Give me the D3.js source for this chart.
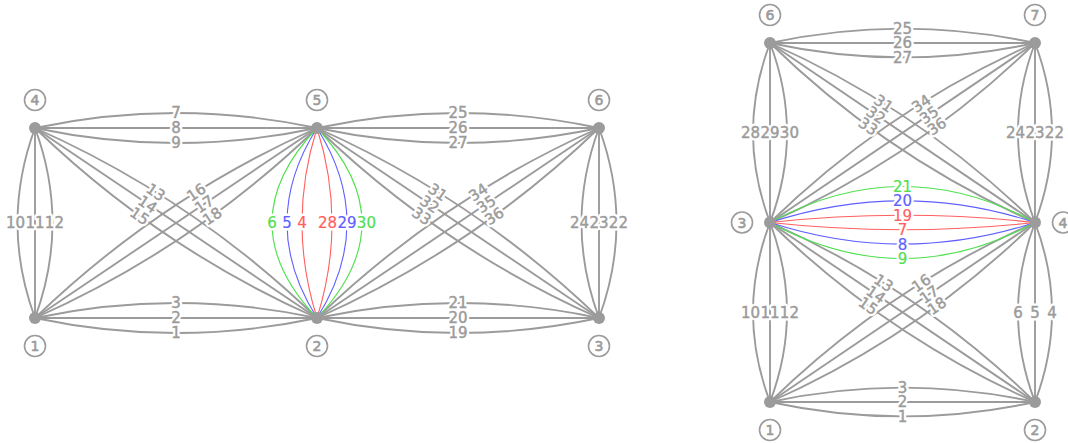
<!DOCTYPE html>
<html><head><meta charset="utf-8">
<script src="https://cdn.jsdelivr.net/npm/d3@7"></script>
<style>body{margin:0;background:#fff;overflow:hidden}</style>
</head><body><svg id="c" width="1068" height="443"></svg>
<script>
// ---------- data ----------
// node ids with their grid column / row
const leftNodeIds  = [1, 2, 3, 4, 5, 6];
const leftNodeCols = [0, 1, 2, 0, 1, 2];
const leftNodeRows = [1, 1, 1, 0, 0, 0];

const rightNodeIds  = [1, 2, 3, 4, 6, 7];
const rightNodeCols = [0, 1, 0, 1, 0, 1];
const rightNodeRows = [2, 2, 1, 1, 0, 0];

// edges: [source, target, label, parallel slot, colour key]
const leftEdges = [
  [1,2,"3",1,"g"],[1,2,"2",0,"g"],[1,2,"1",-1,"g"],
  [4,5,"7",1,"g"],[4,5,"8",0,"g"],[4,5,"9",-1,"g"],
  [2,3,"21",1,"g"],[2,3,"20",0,"g"],[2,3,"19",-1,"g"],
  [5,6,"25",1,"g"],[5,6,"26",0,"g"],[5,6,"27",-1,"g"],
  [4,1,"10",-1,"g"],[4,1,"11",0,"g"],[4,1,"12",1,"g"],
  [6,3,"24",-1,"g"],[6,3,"23",0,"g"],[6,3,"22",1,"g"],
  [4,2,"13",1,"g"],[4,2,"14",0,"g"],[4,2,"15",-1,"g"],
  [1,5,"16",1,"g"],[1,5,"17",0,"g"],[1,5,"18",-1,"g"],
  [5,3,"31",1,"g"],[5,3,"32",0,"g"],[5,3,"33",-1,"g"],
  [2,6,"34",1,"g"],[2,6,"35",0,"g"],[2,6,"36",-1,"g"],
  [5,2,"6",-3,"green"],[5,2,"5",-2,"blue"],[5,2,"4",-1,"red"],
  [5,2,"28",1,"red"],[5,2,"29",2,"blue"],[5,2,"30",3,"green"]
];
const rightEdges = [
  [6,7,"25",1,"g"],[6,7,"26",0,"g"],[6,7,"27",-1,"g"],
  [1,2,"3",1,"g"],[1,2,"2",0,"g"],[1,2,"1",-1,"g"],
  [6,3,"28",-1,"g"],[6,3,"29",0,"g"],[6,3,"30",1,"g"],
  [7,4,"24",-1,"g"],[7,4,"23",0,"g"],[7,4,"22",1,"g"],
  [3,1,"10",-1,"g"],[3,1,"11",0,"g"],[3,1,"12",1,"g"],
  [4,2,"6",-1,"g"],[4,2,"5",0,"g"],[4,2,"4",1,"g"],
  [6,4,"31",1,"g"],[6,4,"32",0,"g"],[6,4,"33",-1,"g"],
  [3,7,"34",1,"g"],[3,7,"35",0,"g"],[3,7,"36",-1,"g"],
  [3,2,"13",1,"g"],[3,2,"14",0,"g"],[3,2,"15",-1,"g"],
  [1,4,"16",1,"g"],[1,4,"17",0,"g"],[1,4,"18",-1,"g"],
  [3,4,"21",2.5,"green"],[3,4,"20",1.5,"blue"],[3,4,"19",0.5,"red"],
  [3,4,"7",-0.5,"red"],[3,4,"8",-1.5,"blue"],[3,4,"9",-2.5,"green"]
];

// ---------- styles ----------
const colour = d3.scaleOrdinal()
  .domain(["g","red","blue","green"])
  .range(["#9b9b9b","#ff5f5f","#5f5fff","#4fe04f"]);
const GRAY = "#9b9b9b";
const FONT = "'DejaVu Sans', sans-serif";
const FS = 15;
const FW = "normal";

const svg = d3.select("#c");

// measure text widths
const meas = svg.append("text").attr("font-family", FONT).attr("font-size", FS)
  .attr("font-weight", FW).attr("visibility", "hidden");
function textW(s) { meas.text(s); return meas.node().getComputedTextLength(); }

function drawGraph(cfg) {
  const x = d3.scaleLinear().domain(cfg.xDomain).range(cfg.xRange);
  const y = d3.scaleLinear().domain(cfg.yDomain).range(cfg.yRange);
  const nodes = cfg.ids.map((id, i) => ({id, col: cfg.cols[i], row: cfg.rows[i],
    x: x(cfg.cols[i]), y: y(cfg.rows[i])}));
  const byId = new Map(nodes.map(n => [n.id, n]));
  const maxRow = d3.max(cfg.rows);

  const edges = cfg.edges.map(e => {
    const s = byId.get(e[0]), t = byId.get(e[1]);
    const dx = t.x - s.x, dy = t.y - s.y, len = Math.hypot(dx, dy);
    const nx = dy / len, ny = -dx / len;
    const vertical = Math.abs(dx) < 1e-6, horizontal = Math.abs(dy) < 1e-6;
    const unit = e[4] !== "g" ? cfg.unitColour : (vertical ? cfg.unitV : cfg.unitH);
    const off = e[3] * unit;               // offset of curve at its midpoint
    const cx = (s.x + t.x) / 2 + nx * off * 2, cy = (s.y + t.y) / 2 + ny * off * 2;
    const diag = !vertical && !horizontal;
    const tt = diag ? (dy > 0 ? 0.4 : 0.6) : 0.5;
    const lx = (1-tt)*(1-tt)*s.x + 2*tt*(1-tt)*cx + tt*tt*t.x;
    const ly = (1-tt)*(1-tt)*s.y + 2*tt*(1-tt)*cy + tt*tt*t.y;
    const ang = diag ? Math.atan2(dy, dx) * 180 / Math.PI : 0;
    return {s, t, cx, cy, label: e[2], col: e[4], lx, ly, ang, vertical,
      key: [e[0], e[1]].sort().join("-"), w: textW(e[2])};
  });

  // spread labels of vertical parallel groups so they don't overlap
  d3.group(edges.filter(d => d.vertical), d => d.key).forEach(arr => {
    arr.sort((a, b) => a.lx - b.lx);
    for (let it = 0; it < 200; it++) {
      let moved = false;
      for (let i = 0; i < arr.length - 1; i++) {
        const a = arr[i], b = arr[i + 1];
        const need = (a.w + b.w) / 2 + 0.3;
        const gap = b.lx - a.lx;
        if (gap < need - 0.01) {
          const push = (need - gap) / 2;
          a.lx -= push; b.lx += push; moved = true;
        }
      }
      if (!moved) break;
    }
  });

  const g = svg.append("g");
  g.append("g").selectAll("path").data(edges).join("path")
    .attr("d", d => `M${d.s.x},${d.s.y}Q${d.cx},${d.cy} ${d.t.x},${d.t.y}`)
    .attr("fill", "none")
    .attr("stroke", d => colour(d.col))
    .attr("stroke-width", d => d.col === "g" ? 1.9 : 1.1);

  const lbl = (sel) => sel
    .attr("transform", d => `translate(${d.lx},${d.ly}) rotate(${d.ang})`)
    .attr("text-anchor", "middle")
    .attr("dy", "0.36em")
    .attr("font-family", FONT)
    .attr("font-size", FS)
    .attr("font-weight", FW)
    .text(d => d.label);

  // white halo
  g.append("g").selectAll("text").data(edges).join("text").call(lbl)
    .attr("fill", "#fff").attr("stroke", "#fff")
    .attr("stroke-width", 5).attr("stroke-linejoin", "round");
  // label itself (slightly emboldened)
  g.append("g").selectAll("text").data(edges).join("text").call(lbl)
    .attr("fill", d => colour(d.col))
    .attr("stroke", d => colour(d.col))
    .attr("stroke-width", d => d.col === "g" ? 0.45 : 0.2);

  g.append("g").selectAll("circle").data(nodes).join("circle")
    .attr("cx", d => d.x).attr("cy", d => d.y).attr("r", 6).attr("fill", GRAY);

  const lab = g.append("g").selectAll("g").data(nodes).join("g")
    .attr("transform", d => {
      let ox = 0, oy = 0;
      if (d.row === 0) oy = -28;
      else if (d.row === maxRow) oy = 28;
      else ox = d.col === 0 ? -28 : 28;
      return `translate(${d.x + ox},${d.y + oy})`;
    });
  lab.append("circle").attr("r", 10.5).attr("fill", "#fff")
    .attr("stroke", GRAY).attr("stroke-width", 1.6);
  lab.append("text").attr("text-anchor", "middle").attr("dy", "0.36em")
    .attr("font-family", FONT).attr("font-size", 14).attr("font-weight", "normal")
    .attr("fill", GRAY).attr("stroke", GRAY).attr("stroke-width", 0.6)
    .text(d => d.id);
}

drawGraph({ids: leftNodeIds, cols: leftNodeCols, rows: leftNodeRows, edges: leftEdges,
  xDomain: [0, 2], xRange: [35, 599], yDomain: [0, 1], yRange: [128, 318],
  unitH: 15, unitV: 17.5, unitColour: 15});
drawGraph({ids: rightNodeIds, cols: rightNodeCols, rows: rightNodeRows, edges: rightEdges,
  xDomain: [0, 1], xRange: [770, 1035], yDomain: [0, 2], yRange: [43, 402],
  unitH: 14.4, unitV: 17, unitColour: 14.4});
meas.remove();
</script></body></html>
